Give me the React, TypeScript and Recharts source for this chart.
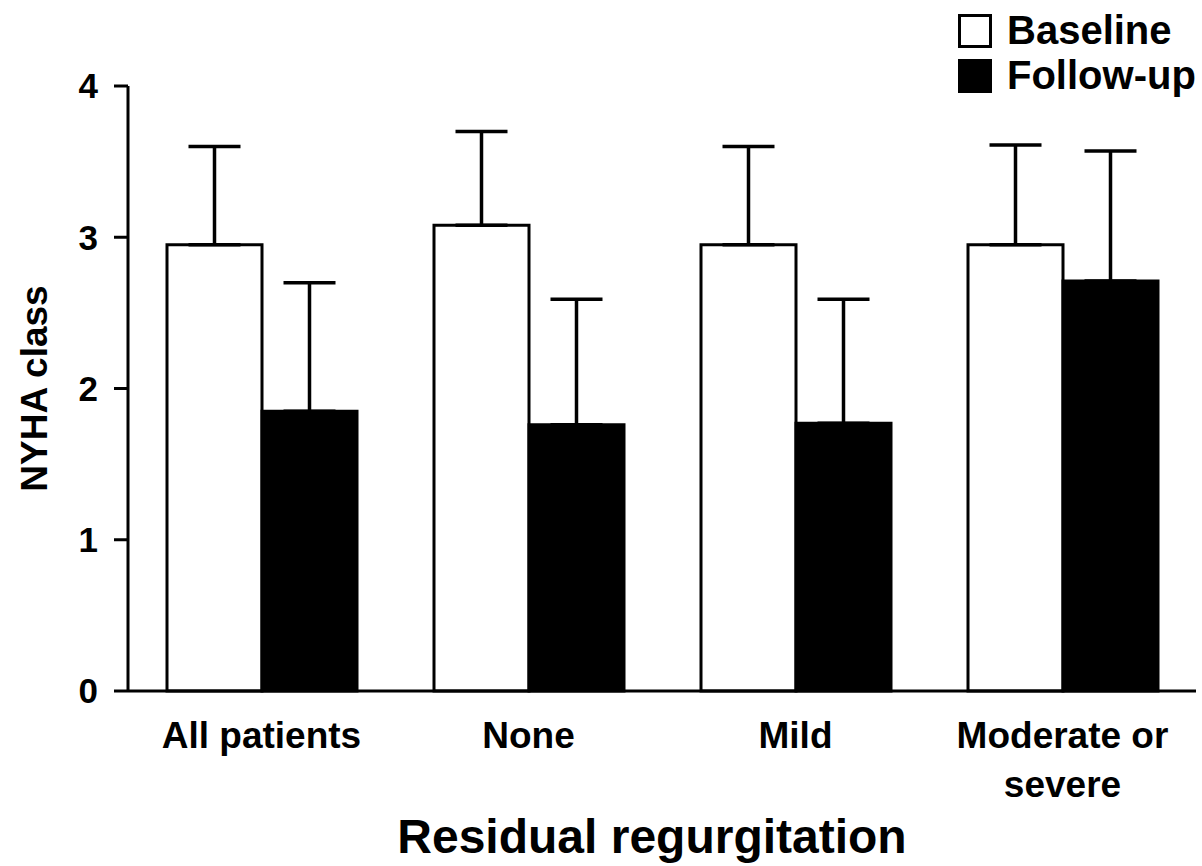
import React from 'react';
import { BarChart, Bar, XAxis, YAxis, ErrorBar, Legend } from 'recharts';

// NYHA class at baseline and at follow-up, grouped by residual regurgitation
const categories = ['All patients', 'None', 'Mild', 'Moderate or\nsevere'];
const baselineMean = [2.95, 3.08, 2.95, 2.95];
const followUpMean = [1.85, 1.76, 1.77, 2.71];
const baselineSD = [0.65, 0.62, 0.65, 0.66];
const followUpSD = [0.85, 0.83, 0.82, 0.86];
const yTicks = [0, 1, 2, 3, 4];

const data = categories.map((name, i) => ({
  name,
  baseline: baselineMean[i],
  followUp: followUpMean[i],
  // upper-only error bars: [minus, plus]
  baselineErr: [0, baselineSD[i]],
  followUpErr: [0, followUpSD[i]],
}));

const FONT = '"Liberation Sans", Arial, Helvetica, sans-serif';

const CategoryTick = (props: any) => {
  const { x, y, payload } = props;
  const lines = String(payload.value).split('\n');
  return (
    <text x={x} y={y} textAnchor="middle" fontFamily={FONT} fontWeight="bold" fontSize={37} fill="#000">
      {lines.map((line, i) => (
        <tspan key={i} x={x} dy={i === 0 ? 57 : 49}>
          {line}
        </tspan>
      ))}
    </text>
  );
};

const XTitle = (props: any) => {
  const { viewBox } = props;
  const cx = viewBox.x + viewBox.width / 2 - 10;
  return (
    <text x={cx} y={853} textAnchor="middle" fontFamily={FONT} fontWeight="bold" fontSize={48} fill="#000">
      Residual regurgitation
    </text>
  );
};

const YTitle = (props: any) => {
  const { viewBox } = props;
  const cy = viewBox.y + viewBox.height / 2;
  const bx = 47;
  return (
    <text
      x={bx}
      y={cy}
      transform={`rotate(-90, ${bx}, ${cy})`}
      textAnchor="middle"
      fontFamily={FONT}
      fontWeight="bold"
      fontSize={37}
      fill="#000"
    >
      NYHA class
    </text>
  );
};

const LegendBox = (props: any) => {
  const { payload } = props;
  return (
    <div style={{ fontFamily: FONT, fontWeight: 'bold', fontSize: 40, lineHeight: '45px', color: '#000' }}>
      {(payload || []).map((entry: any) => (
        <div key={entry.value} style={{ display: 'flex', alignItems: 'center', height: 45 }}>
          <span
            style={{
              display: 'inline-block',
              width: 28,
              height: 28,
              border: '3px solid #000',
              background: entry.payload?.fill ?? entry.color,
              marginRight: 15,
            }}
          />
          <span>{entry.value}</span>
        </div>
      ))}
    </div>
  );
};

export default function App() {
  return (
    <div style={{ position: 'absolute', left: 0, top: 0, width: 1202, height: 866, background: '#fff' }}>
      <BarChart
        width={1202}
        height={866}
        data={data}
        margin={{ top: 86, right: 6, bottom: 0, left: 0 }}
        barGap={0}
        barCategoryGap={38}
      >
        <XAxis
          dataKey="name"
          height={175}
          axisLine={{ stroke: '#000', strokeWidth: 3 }}
          tickLine={false}
          tickSize={0}
          tickMargin={0}
          tick={<CategoryTick />}
          interval={0}
          label={<XTitle />}
        />
        <YAxis
          width={128}
          domain={[0, 4]}
          ticks={yTicks}
          axisLine={{ stroke: '#000', strokeWidth: 3 }}
          tickLine={{ stroke: '#000', strokeWidth: 3 }}
          tickSize={14}
          tickMargin={16}
          tick={{ fill: '#000', fontFamily: FONT, fontWeight: 'bold', fontSize: 35 }}
          label={<YTitle />}
        />
        <Legend
          layout="horizontal"
          verticalAlign="middle"
          align="center"
          content={<LegendBox />}
          wrapperStyle={{ top: 8, left: 958, width: 'auto', right: 'auto', bottom: 'auto' }}
        />
        <Bar dataKey="baseline" name="Baseline" fill="#fff" stroke="#000" strokeWidth={3} barSize={95} isAnimationActive={false}>
          <ErrorBar dataKey="baselineErr" direction="y" width={26} stroke="#000" strokeWidth={3.5} />
        </Bar>
        <Bar dataKey="followUp" name="Follow-up" fill="#000" stroke="#000" strokeWidth={3} barSize={95} isAnimationActive={false}>
          <ErrorBar dataKey="followUpErr" direction="y" width={26} stroke="#000" strokeWidth={3.5} />
        </Bar>
      </BarChart>
    </div>
  );
}
